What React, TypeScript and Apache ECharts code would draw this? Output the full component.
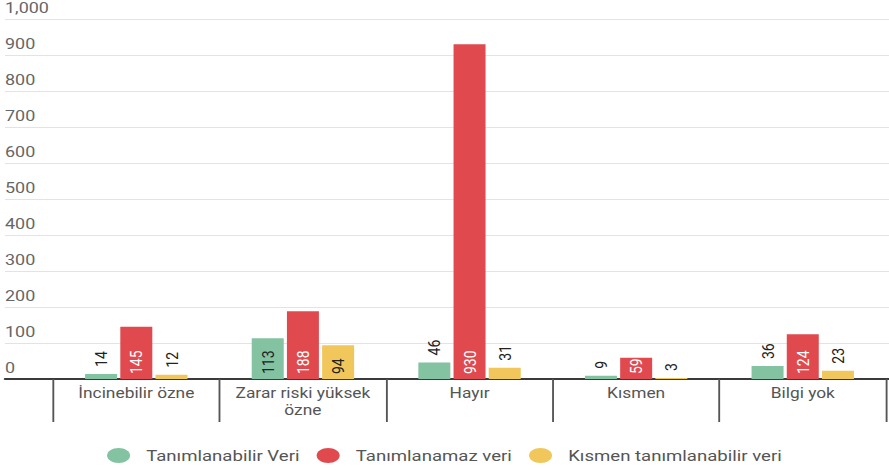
import React, { useEffect, useRef } from "react";
import * as echarts from "echarts";

const categories = [
  "İncinebilir özne",
  "Zarar riski yüksek\nözne",
  "Hayır",
  "Kısmen",
  "Bilgi yok",
];
const seriesNames = [
  "Tanımlanabilir Veri",
  "Tanımlanamaz veri",
  "Kısmen tanımlanabilir veri",
];
const identifiable = [14, 113, 46, 9, 36];
const unidentifiable = [145, 188, 930, 59, 124];
const partial = [12, 94, 31, 3, 23];

const colors = ["#83c3a1", "#e04a4f", "#f1c75c"];
const yMax = 1000;
const yStep = 100;

const font = "Roboto, 'Noto Sans', sans-serif";

// The chart is laid out at a narrower width and widened with a CSS scaleX.
const STRETCH = 1.24;
const PAGE_W = 889;
const PAGE_H = 470;
const sx = (px: number) => px / STRETCH;

// Short bars get their label above the bar; longer bars hold it inside.
function buildData(values: number[], lightText: boolean) {
  return values.map((v) => {
    const inside = lightText || v >= 50;
    return {
      value: v,
      label: inside
        ? {
            position: "insideBottom",
            distance: 5,
            color: lightText ? "#ffffff" : "#222222",
          }
        : { position: "top", distance: 7, color: "#222222" },
    };
  });
}

// Ellipse built from cubic curves so its bounding box is exact.
const ellipseIcon =
  "path://M0,15C0,6.72 8.28,0 18.5,0C28.72,0 37,6.72 37,15C37,23.28 28.72,30 18.5,30C8.28,30 0,23.28 0,15Z";

export default function App() {
  const ref = useRef<HTMLDivElement>(null);

  useEffect(() => {
    if (!ref.current) return;
    const chart = echarts.init(ref.current, null, { renderer: "svg" });

    const barLabel = {
      show: true,
      rotate: 90,
      align: "left",
      verticalAlign: "middle",
      fontFamily: font,
      fontSize: 14,
    };

    const seriesValues = [identifiable, unidentifiable, partial];

    chart.setOption({
      animation: false,
      backgroundColor: "#ffffff",
      grid: [
        { left: sx(5), right: 0, top: 19, height: 360 },
        { left: sx(53), right: sx(3), top: 19, height: 360 },
      ],
      xAxis: [
        {
          gridIndex: 0,
          type: "value",
          min: 0,
          max: 1,
          axisLine: { show: true, onZero: false, lineStyle: { color: "#3a3a3a", width: 2 } },
          axisTick: { show: false },
          axisLabel: { show: false },
          splitLine: { show: false },
        },
        {
          gridIndex: 1,
          type: "category",
          data: categories,
          axisLine: { show: false },
          axisTick: {
            show: true,
            interval: 0,
            length: 43,
            lineStyle: { color: "#555", width: 1.5 },
          },
          axisLabel: {
            interval: 0,
            margin: 6,
            color: "#555",
            fontFamily: font,
            fontSize: 14,
            lineHeight: 17,
          },
        },
      ],
      yAxis: [
        {
          gridIndex: 0,
          type: "value",
          min: 0,
          max: yMax,
          interval: yStep,
          axisLine: { show: false },
          axisTick: { show: false },
          splitLine: { lineStyle: { color: "#e3e3e3", width: 1 } },
          axisLabel: {
            inside: true,
            margin: 0,
            verticalAlign: "bottom",
            padding: [0, 0, 3, 0],
            color: "#666",
            fontFamily: font,
            fontSize: 14.5,
            formatter: (v: number) => v.toLocaleString("en-US"),
          },
        },
        {
          gridIndex: 1,
          type: "value",
          min: 0,
          max: yMax,
          show: false,
        },
      ],
      legend: {
        bottom: 2,
        left: "center",
        icon: ellipseIcon,
        symbolKeepAspect: false,
        itemWidth: sx(23),
        itemHeight: 15,
        itemGap: sx(17),
        data: seriesNames,
        textStyle: {
          color: "#555",
          fontFamily: font,
          fontSize: 15,
          padding: [0, 0, 0, 8],
        },
      },
      series: seriesNames.map((name, i) => ({
        name,
        type: "bar",
        xAxisIndex: 1,
        yAxisIndex: 1,
        barWidth: sx(32),
        barGap: "10%",
        itemStyle: { color: colors[i] },
        label: barLabel,
        data: buildData(seriesValues[i], i === 1),
      })),
    });

    return () => chart.dispose();
  }, []);

  return (
    <div
      ref={ref}
      style={{
        position: "absolute",
        left: 0,
        top: 0,
        width: PAGE_W / STRETCH,
        height: PAGE_H,
        transform: `scaleX(${STRETCH})`,
        transformOrigin: "left top",
      }}
    />
  );
}
